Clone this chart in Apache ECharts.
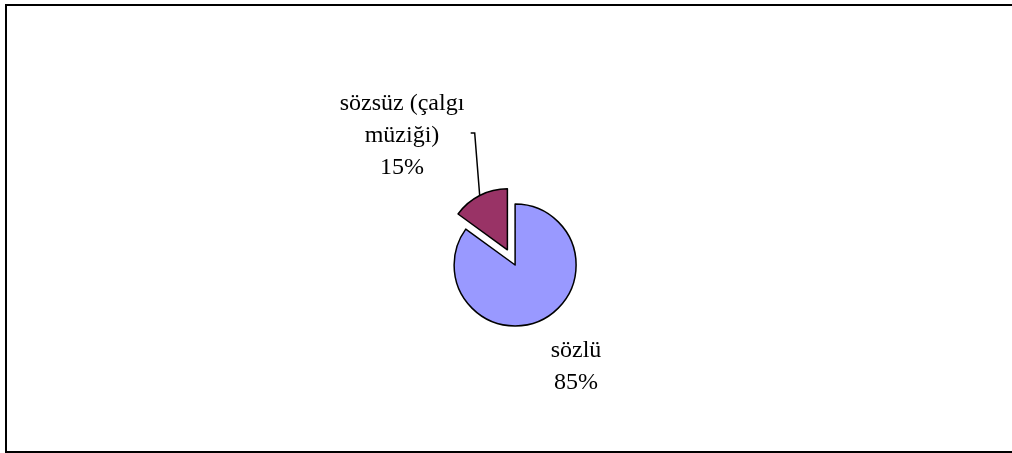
<!DOCTYPE html>
<html>
<head>
<meta charset="utf-8">
<script src="https://cdn.jsdelivr.net/npm/echarts@6/dist/echarts.min.js"></script>
<style>
    html, body { margin: 0; padding: 0; background: #fff; overflow: hidden; }
    .frame {
        position: absolute;
        left: 5px;
        top: 4px;
        width: 1020px;
        height: 445px;
        border: 2px solid #000;
    }
    #main { position: absolute; left: 0; top: 0; width: 1012px; height: 453px; }
</style>
</head>
<body>
<div class="frame"></div>
<div id="main"></div>
<script>
var categories = ['sözlü', 'sözsüz (çalgı\nmüziği)']
var values = [85, 15]
var colors = ['#9999FF', '#993366']
var exploded = [false, true]

var W = 1012
var H = 453
var cx = W * 0.509
var cy = H * 0.585
var radius = 61
var explodeDist = 17
var fontFamily = '"Liberation Serif", "Times New Roman", serif'

var myChart = echarts.init(document.getElementById('main'))

// 扇区中线角度，用于计算分离偏移
var total = values.reduce(function (a, b) { return a + b }, 0)
var startAngle = 90
var acc = 0
var midAngles = []
for (var i = 0; i < values.length; i++) {
    var mid = startAngle - (acc + values[i] / 2) / total * 360
    midAngles.push(mid)
    acc += values[i]
}

function buildData (seriesExploded) {
    return categories.map(function (name, i) {
        var visible = exploded[i] === seriesExploded
        return {
            name: name,
            value: values[i],
            itemStyle: visible
                ? { color: colors[i], borderColor: '#000', borderWidth: 1.5 }
                : { color: 'transparent', borderWidth: 0 },
            label: { show: visible },
            labelLine: { show: visible && seriesExploded }
        }
    })
}

var labelStyle = {
    show: true,
    position: 'outside',
    fontFamily: fontFamily,
    fontSize: 24,
    lineHeight: 32,
    color: '#000',
    align: 'center',
    formatter: function (p) {
        return p.name + '\n' + Math.round(p.percent) + '%'
    }
}

var expIdx = exploded.indexOf(true)
var a = midAngles[expIdx] * Math.PI / 180
var ecx = cx + explodeDist * Math.cos(a)
var ecy = cy - explodeDist * Math.sin(a)

var option = {
    animation: false,
    series: [{
        type: 'pie',
        center: [cx, cy],
        radius: radius,
        startAngle: startAngle,
        clockwise: true,
        silent: true,
        label: labelStyle,
        labelLine: { show: false },
        labelLayout: function (params) {
            return { x: 576, y: 367, align: 'center', verticalAlign: 'middle' }
        },
        data: buildData(false)
    }, {
        type: 'pie',
        center: [ecx, ecy],
        radius: radius,
        startAngle: startAngle,
        clockwise: true,
        silent: true,
        label: labelStyle,
        labelLine: {
            show: true,
            length: 20,
            length2: 5,
            lineStyle: { color: '#000', width: 1.5 }
        },
        labelLayout: function (params) {
            var p = params.labelLinePoints
            var start = p ? p[0] : [482, 192]
            return {
                x: 402,
                y: 136,
                align: 'center',
                verticalAlign: 'middle',
                labelLinePoints: [start, [start[0] - 5, 133], [start[0] - 9, 133]]
            }
        },
        data: buildData(true)
    }]
}
myChart.setOption(option)
</script>
</body>
</html>
